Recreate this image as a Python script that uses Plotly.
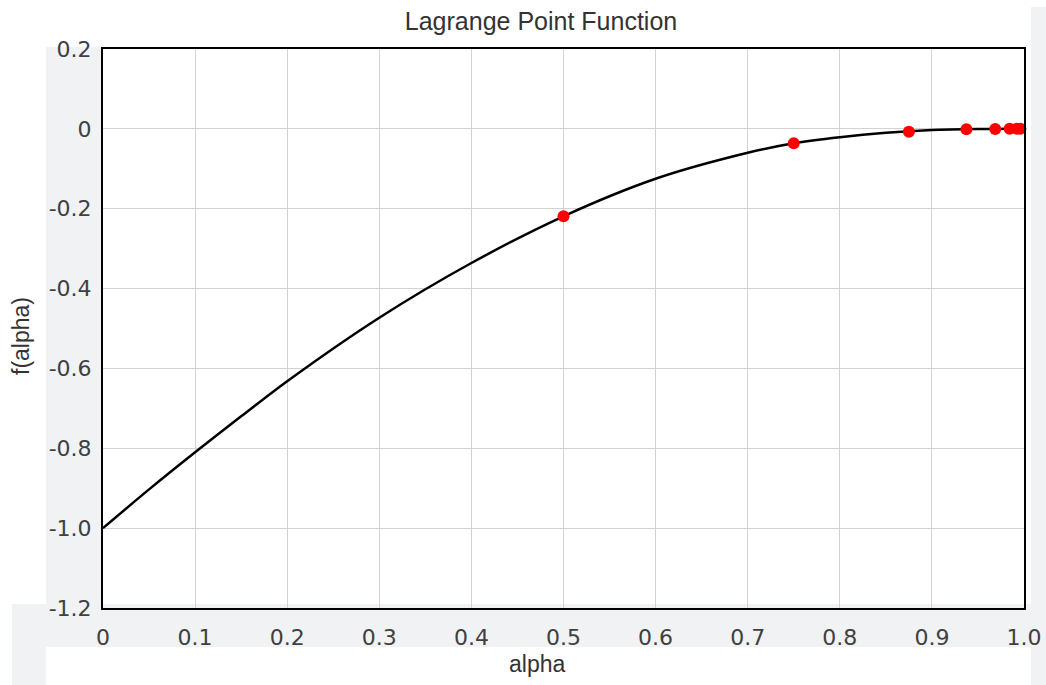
import plotly.graph_objects as go

# Curve values
curve_alpha = [0.0, 0.05, 0.1, 0.15, 0.2, 0.3, 0.4, 0.5, 0.6, 0.7, 0.75, 0.8, 0.85, 0.9, 0.95, 1.0]
curve_f = [-1.0, -0.903, -0.81, -0.72, -0.632, -0.473, -0.336, -0.219, -0.125, -0.060, -0.036,
           -0.021, -0.010, -0.003, -0.0005, 0.0]

# Red iteration points
pts_alpha = [0.5, 0.75, 0.875, 0.9375, 0.96875, 0.984375, 0.9921875, 0.99609375]
pts_f = [-0.219, -0.036, -0.007, -0.001, -0.0002, 0.0, 0.0, 0.0]

x_ticks = [0, 0.1, 0.2, 0.3, 0.4, 0.5, 0.6, 0.7, 0.8, 0.9, 1.0]
x_labels = ["0", "0.1", "0.2", "0.3", "0.4", "0.5", "0.6", "0.7", "0.8", "0.9", "1.0"]
y_ticks = [0.2, 0, -0.2, -0.4, -0.6, -0.8, -1.0, -1.2]
y_labels = ["0.2", "0", "-0.2", "-0.4", "-0.6", "-0.8", "-1.0", "-1.2"]

W, H = 1046, 685
L, R, T, B = 103, 1024, 49, 608


def px(x):
    return (x - L) / (R - L)


def py(y):
    return (B - y) / (B - T)


fig = go.Figure()
fig.add_trace(go.Scatter(x=curve_alpha, y=curve_f, mode="lines",
                         line=dict(color="black", width=2.5, shape="spline", smoothing=0.8),
                         showlegend=False, hoverinfo="skip"))
fig.add_trace(go.Scatter(x=pts_alpha, y=pts_f, mode="markers",
                         marker=dict(color="#ff0000", size=12), cliponaxis=False,
                         showlegend=False))

grey = "#f1f2f4"
shapes = []
for (x0, y0, x1, y1) in [(46, 47, 103, 608), (12, 604, 1031, 647), (12, 604, 46, 685), (1031, 7, 1046, 685)]:
    shapes.append(dict(type="rect", xref="paper", yref="paper", x0=px(x0), x1=px(x1),
                       y0=py(y1), y1=py(y0), fillcolor=grey, line=dict(width=0), layer="below"))

tick_font = dict(family="DejaVu Sans", size=22, color="#404040")
axis_common = dict(showline=True, mirror=True, linecolor="black", linewidth=2,
                   showgrid=True, gridcolor="#d2d2d2", gridwidth=1, zeroline=False,
                   tickfont=tick_font, ticks="", ticklabeloverflow="allow", automargin=False)

fig.update_layout(
    width=W, height=H,
    margin=dict(l=L, r=W - R, t=T, b=H - B, pad=0, autoexpand=False),
    paper_bgcolor="white", plot_bgcolor="white",
    title=dict(text="Lagrange Point Function", x=541 / W, xanchor="center",
               y=1 - 21 / H, yanchor="middle",
               font=dict(family="Liberation Sans, Arial", size=25, color="#333333")),
    xaxis=dict(range=[0, 1], tickvals=x_ticks, ticktext=x_labels,
               ticklabelstandoff=9, **axis_common),
    yaxis=dict(range=[-1.2, 0.2], tickvals=y_ticks, ticktext=y_labels,
               ticklabelstandoff=5, **axis_common),
    shapes=shapes,
    annotations=[
        dict(text="alpha", xref="paper", yref="paper", x=px(537), y=py(664),
             showarrow=False, xanchor="center", yanchor="middle",
             font=dict(family="Liberation Sans, Arial", size=23, color="#333333")),
        dict(text="f(alpha)", xref="paper", yref="paper", x=px(21), y=py(336),
             showarrow=False, xanchor="center", yanchor="middle", textangle=-90,
             font=dict(family="Liberation Sans, Arial", size=23, color="#333333")),
    ],
)

fig.write_html("out.html", config={"displayModeBar": False},
               post_script="document.body.style.margin='0';document.body.style.overflow='hidden';")
